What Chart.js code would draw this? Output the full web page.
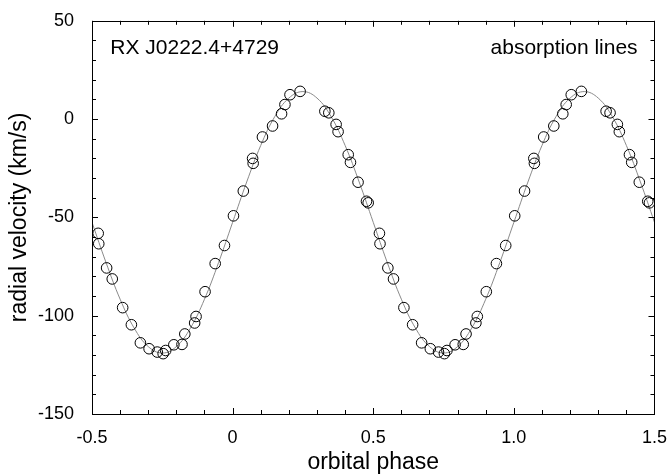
<!DOCTYPE html>
<html>
<head>
<meta charset="utf-8">
<script src="https://cdn.jsdelivr.net/npm/chart.js@4"></script>
<style>
  body { margin: 0; background: #fff; }
  #box { width: 672px; height: 476px; }
</style>
</head>
<body>
<div id="box"><canvas id="chart1" width="672" height="476"></canvas></div>
<script>
// measured points, one orbital cycle (phase -0.5 .. 0.5), shown twice
var obsPhase = [-0.478, -0.476, -0.448, -0.428, -0.391, -0.360, -0.328, -0.297, -0.268, -0.247,
                -0.238, -0.209, -0.180, -0.170, -0.135, -0.130, -0.098, -0.062, -0.029, 0.003,
                0.038, 0.071, 0.073, 0.106, 0.142, 0.174, 0.186, 0.204, 0.240, 0.328,
                0.342, 0.368, 0.375, 0.411, 0.419, 0.446, 0.476, 0.482];
var obsVel = [-58.1, -63.4, -75.7, -81.3, -95.9, -104.6, -113.8, -116.8, -118.5, -119.3,
              -117.7, -114.8, -114.6, -109.3, -103.7, -100.4, -87.8, -73.5, -64.3, -49.2,
              -36.6, -20.0, -22.5, -9.1, -3.5, 2.7, 7.4, 12.4, 14.1, 4.0,
              3.2, -2.7, -6.4, -18.1, -22.0, -32.1, -41.8, -42.6];

// fitted curve every 0.05 in phase
var fitPhase = [-0.5, -0.45, -0.4, -0.35, -0.3, -0.25, -0.2, -0.15, -0.1, -0.05,
                0, 0.05, 0.1, 0.15, 0.2, 0.25, 0.3, 0.35, 0.4, 0.45,
                0.5, 0.55, 0.6, 0.65, 0.7, 0.75, 0.8, 0.85, 0.9, 0.95,
                1, 1.05, 1.1, 1.15, 1.2, 1.25, 1.3, 1.35, 1.4, 1.45, 1.5];
var fitVel = [-52.5, -73.0, -91.6, -106.3, -115.7, -119.0, -115.7, -106.3, -91.6, -73.0,
              -52.5, -32.0, -13.4, 1.3, 10.7, 14.0, 10.7, 1.3, -13.4, -32.0,
              -52.5, -73.0, -91.6, -106.3, -115.7, -119.0, -115.7, -106.3, -91.6, -73.0,
              -52.5, -32.0, -13.4, 1.3, 10.7, 14.0, 10.7, 1.3, -13.4, -32.0, -52.5];

var xTicks = [-0.5, 0, 0.5, 1, 1.5];
var yTicks = [-150, -100, -50, 0, 50];

var FONT = "'Liberation Sans', Arial, sans-serif";

var pts = [];
for (var c = 0; c < 2; c++) {
  for (var i = 0; i < obsPhase.length; i++) {
    pts.push({x: obsPhase[i] + c, y: obsVel[i]});
  }
}
var curve = [];
for (var i = 0; i < fitPhase.length; i++) {
  curve.push({x: fitPhase[i], y: fitVel[i]});
}

// frame, inside ticks on all four sides, and the two labels
var framePlugin = {
  id: 'frame',
  afterDraw: function(chart) {
    var ctx = chart.ctx;
    var a = chart.chartArea;
    var xs = chart.scales.x, ys = chart.scales.y;
    ctx.save();
    ctx.strokeStyle = '#000';
    ctx.lineWidth = 1;
    ctx.beginPath();
    for (var k = 0; k <= 20; k++) {
      var v = -0.5 + k * 0.1;
      var px = Math.round(xs.getPixelForValue(v)) + 0.5;
      var len = (k % 5 == 0) ? 6 : 4;
      ctx.moveTo(px, a.bottom); ctx.lineTo(px, a.bottom - len);
      ctx.moveTo(px, a.top); ctx.lineTo(px, a.top + len);
    }
    for (var k = 0; k <= 20; k++) {
      var v = -150 + k * 10;
      var py = Math.round(ys.getPixelForValue(v)) + 0.5;
      var len = (k % 5 == 0) ? 6 : 4;
      ctx.moveTo(a.left, py); ctx.lineTo(a.left + len, py);
      ctx.moveTo(a.right, py); ctx.lineTo(a.right - len, py);
    }
    ctx.stroke();
    ctx.strokeRect(Math.round(a.left) + 0.5, Math.round(a.top) + 0.5,
                   Math.round(a.right - a.left), Math.round(a.bottom - a.top));

    ctx.fillStyle = '#000';
    ctx.font = '21px ' + FONT;
    ctx.textBaseline = 'middle';
    ctx.textAlign = 'left';
    ctx.fillText('RX J0222.4+4729', xs.getPixelForValue(-0.435), ys.getPixelForValue(36));
    ctx.textAlign = 'right';
    ctx.fillText('absorption lines', xs.getPixelForValue(1.44), ys.getPixelForValue(36));
    ctx.restore();
  }
};

new Chart(document.getElementById('chart1'), {
  type: 'scatter',
  data: {
    datasets: [{
      label: 'observed',
      data: pts,
      pointStyle: 'circle',
      pointRadius: 5.3,
      pointBorderColor: '#000',
      pointBackgroundColor: 'rgba(0,0,0,0)',
      pointBorderWidth: 1,
      showLine: false
    }, {
      label: 'fit',
      data: curve,
      showLine: true,
      pointRadius: 0,
      borderColor: '#8a8a8a',
      borderWidth: 1,
      tension: 0.4
    }]
  },
  options: {
    responsive: false,
    animation: false,
    events: [],
    layout: { padding: { top: 17, right: 15, left: 0, bottom: 0 } },
    plugins: { legend: { display: false }, tooltip: { enabled: false } },
    scales: {
      x: {
        type: 'linear',
        min: -0.5, max: 1.5,
        afterBuildTicks: function(s) { s.ticks = xTicks.map(function(v) { return {value: v}; }); },
        afterFit: function(s) { s.height = 62; },
        grid: { display: false },
        border: { display: false },
        ticks: { color: '#000', font: { size: 18, family: FONT }, padding: 5, maxRotation: 0 },
        title: { display: true, text: 'orbital phase', color: '#000',
                 font: { size: 23, family: FONT }, padding: { top: 0, bottom: 0 } }
      },
      y: {
        type: 'linear',
        min: -150, max: 50,
        afterBuildTicks: function(s) { s.ticks = yTicks.map(function(v) { return {value: v}; }); },
        afterFit: function(s) { s.width = 92; },
        grid: { display: false },
        border: { display: false },
        ticks: { color: '#000', font: { size: 18, family: FONT }, padding: 10 },
        title: { display: true, text: 'radial velocity (km/s)', color: '#000',
                 font: { size: 23, family: FONT }, padding: { top: 6, bottom: 0 } }
      }
    }
  },
  plugins: [framePlugin]
});
</script>
</body>
</html>
